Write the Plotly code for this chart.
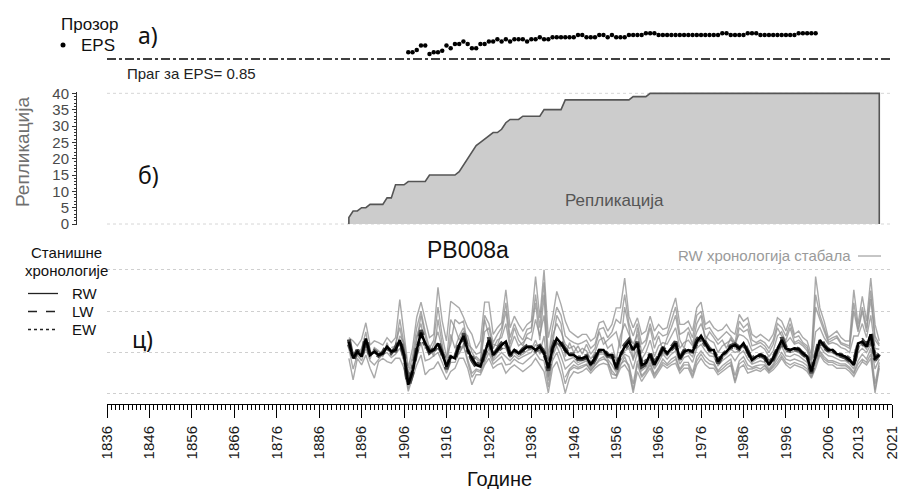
import plotly.graph_objects as go

W, H = 899, 489

# ---------------- data ----------------
# a) running EPS, 1907-2003
eps_years = list(range(1907, 2004))
eps = [
    0.884, 0.884, 0.895, 0.917, 0.917, 0.875, 0.884, 0.884, 0.891, 0.917,
    0.904, 0.925, 0.925, 0.937, 0.925, 0.904, 0.904, 0.925, 0.925, 0.937,
    0.937, 0.949, 0.937, 0.949, 0.937, 0.949, 0.949, 0.949, 0.937, 0.949,
    0.949, 0.959, 0.949, 0.949, 0.959, 0.959, 0.959, 0.959, 0.959, 0.959,
    0.970, 0.970, 0.959, 0.959, 0.959, 0.970, 0.970, 0.959, 0.970, 0.959,
    0.959, 0.959, 0.970, 0.970, 0.970, 0.970, 0.979, 0.979, 0.979, 0.970,
    0.970, 0.970, 0.970, 0.970, 0.970, 0.970, 0.970, 0.970, 0.970, 0.970,
    0.970, 0.970, 0.970, 0.970, 0.979, 0.979, 0.970, 0.970, 0.970, 0.970,
    0.979, 0.979, 0.979, 0.970, 0.970, 0.970, 0.970, 0.970, 0.970, 0.970,
    0.970, 0.970, 0.979, 0.979, 0.979, 0.979, 0.979,
]
eps_threshold = 0.85

# b) sample depth (number of series), 1893-2018
chron_years = list(range(1893, 2019))
replication = [
    2, 4, 4, 5, 5, 6, 6,
    6, 6, 8, 8, 12, 12, 12, 13, 13, 13,
    13, 13, 15, 15, 15, 15, 15, 15, 15, 16,
    18, 20, 22, 24, 25, 26, 27, 28, 28, 29,
    31, 32, 32, 32, 33, 33, 33, 33, 33, 35,
    35, 35, 35, 35, 38, 38, 38, 38, 38, 38,
    38, 38, 38, 38, 38, 38, 38, 38, 38, 38,
    39, 39, 39, 39, 40, 40, 40, 40, 40, 40,
    40, 40, 40, 40, 40, 40, 40, 40, 40, 40,
    40, 40, 40, 40, 40, 40, 40, 40, 40, 40,
    40, 40, 40, 40, 40, 40, 40, 40, 40, 40,
    40, 40, 40, 40, 40, 40, 40, 40, 40, 40,
    40, 40, 40, 40, 40, 40, 40, 40, 40,
]

# c) site chronologies, 1893-2018
rw = [
    1.13, 0.93, 1.01, 0.95, 1.17, 0.97, 1.01,
    0.97, 0.99, 1.07, 1.01, 1.03, 1.15, 0.97, 0.61, 0.77, 1.03,
    1.24, 1.11, 1.01, 1.03, 1.11, 0.99, 0.83, 0.95, 0.93, 1.09,
    1.20, 1.03, 0.93, 0.85, 0.83, 0.99, 1.15, 0.97, 1.03, 1.09,
    1.13, 0.97, 1.03, 0.99, 1.03, 1.07, 1.07, 1.03, 1.07, 0.99,
    0.81, 1.05, 1.17, 1.11, 1.03, 0.97, 0.97, 0.93, 0.93, 0.95,
    0.85, 0.93, 1.03, 1.03, 0.97, 0.97, 0.81, 0.97, 1.07, 1.13,
    1.03, 1.11, 0.85, 0.87, 0.98, 0.85, 0.95, 1.05, 0.99, 1.05,
    1.11, 0.93, 1.01, 1.03, 1.01, 1.13, 1.20, 1.11, 1.03, 1.03,
    0.89, 0.97, 1.01, 1.07, 1.09, 1.05, 1.11, 1.01, 0.91, 0.95,
    0.97, 0.95, 0.85, 0.93, 1.05, 1.15, 1.05, 1.03, 1.05, 1.04,
    0.99, 0.95, 0.77, 0.95, 1.15, 1.08, 1.03, 1.03, 0.98, 0.97,
    0.95, 0.91, 0.85, 1.11, 1.13, 1.07, 1.22, 0.93, 0.97,
]
lw = [
    1.16, 0.90, 1.03, 0.93, 1.20, 0.95, 1.00,
    0.96, 1.00, 1.09, 1.00, 1.05, 1.18, 0.95, 0.58, 0.75, 1.05,
    1.27, 1.12, 1.00, 1.04, 1.14, 0.98, 0.80, 0.96, 0.92, 1.11,
    1.23, 1.04, 0.91, 0.83, 0.81, 1.00, 1.18, 0.96, 1.04, 1.11,
    1.16, 0.96, 1.04, 0.98, 1.04, 1.08, 1.09, 1.05, 1.08, 1.00,
    0.78, 1.06, 1.20, 1.12, 1.02, 0.96, 0.96, 0.92, 0.92, 0.94,
    0.83, 0.92, 1.05, 1.04, 0.96, 0.96, 0.79, 0.98, 1.09, 1.15,
    1.02, 1.13, 0.83, 0.86, 0.99, 0.84, 0.94, 1.06, 0.99, 1.06,
    1.13, 0.92, 1.02, 1.04, 1.00, 1.15, 1.23, 1.12, 1.04, 1.03,
    0.87, 0.96, 1.02, 1.08, 1.10, 1.06, 1.13, 1.00, 0.90, 0.94,
    0.97, 0.94, 0.83, 0.92, 1.06, 1.18, 1.06, 1.03, 1.06, 1.04,
    0.98, 0.94, 0.75, 0.96, 1.18, 1.09, 1.03, 1.04, 0.98, 0.96,
    0.94, 0.90, 0.83, 1.13, 1.15, 1.08, 1.25, 0.91, 0.98,
]
ew = [
    1.10, 0.95, 1.00, 0.97, 1.13, 0.98, 1.02,
    0.98, 0.99, 1.05, 1.02, 1.02, 1.12, 0.98, 0.65, 0.80, 1.02,
    1.20, 1.09, 1.02, 1.02, 1.08, 1.00, 0.86, 0.95, 0.94, 1.07,
    1.17, 1.02, 0.95, 0.87, 0.85, 0.99, 1.12, 0.98, 1.02, 1.07,
    1.10, 0.98, 1.02, 1.00, 1.02, 1.06, 1.06, 1.02, 1.06, 0.99,
    0.84, 1.04, 1.14, 1.09, 1.03, 0.98, 0.98, 0.94, 0.94, 0.96,
    0.87, 0.94, 1.02, 1.02, 0.98, 0.98, 0.84, 0.97, 1.05, 1.10,
    1.03, 1.09, 0.87, 0.89, 0.98, 0.87, 0.96, 1.04, 0.99, 1.04,
    1.09, 0.94, 1.01, 1.02, 1.01, 1.11, 1.17, 1.09, 1.03, 1.02,
    0.91, 0.97, 1.01, 1.06, 1.07, 1.04, 1.09, 1.01, 0.93, 0.96,
    0.97, 0.96, 0.87, 0.94, 1.04, 1.12, 1.04, 1.02, 1.04, 1.03,
    0.99, 0.96, 0.80, 0.95, 1.12, 1.06, 1.02, 1.02, 0.98, 0.97,
    0.96, 0.92, 0.87, 1.09, 1.11, 1.06, 1.19, 0.95, 0.97,
]

# individual tree RW indices
tree_hi = [
    1.18, 1.14, 1.08, 1.16, 1.36, 1.09, 1.14,
    1.12, 1.09, 1.18, 1.12, 1.18, 1.64, 1.22, 0.81, 1.05, 1.43,
    1.61, 1.38, 1.18, 1.22, 1.79, 1.38, 1.14, 1.62, 1.58, 1.54,
    1.43, 1.30, 1.22, 1.05, 1.14, 1.61, 1.61, 1.22, 1.30, 1.36,
    1.76, 1.30, 1.44, 1.34, 1.26, 1.34, 1.38, 1.92, 1.42, 2.00,
    1.18, 1.42, 1.74, 1.58, 1.38, 1.26, 1.22, 1.18, 1.22, 1.22,
    1.14, 1.18, 1.36, 1.38, 1.26, 1.34, 1.54, 1.54, 1.90, 1.44,
    1.30, 1.42, 1.22, 1.26, 1.44, 1.26, 1.34, 1.28, 1.30, 1.50,
    1.66, 1.34, 1.34, 1.38, 1.26, 1.54, 1.61, 1.34, 1.38, 1.30,
    1.26, 1.28, 1.34, 1.26, 1.22, 1.46, 1.38, 1.42, 1.22, 1.18,
    1.22, 1.18, 1.14, 1.22, 1.42, 1.38, 1.26, 1.42, 1.22, 1.26,
    1.18, 1.14, 0.97, 1.92, 1.54, 1.38, 1.18, 1.22, 1.26, 1.18,
    1.14, 1.14, 1.76, 1.34, 1.68, 1.38, 1.90, 1.34, 1.14,
]
tree_lo = [
    0.93, 0.67, 0.93, 0.85, 0.97, 0.81, 0.69,
    0.89, 0.93, 0.89, 0.87, 0.93, 0.93, 0.81, 0.53, 0.69, 0.85,
    0.97, 0.73, 0.79, 0.81, 0.89, 0.77, 0.67, 0.77, 0.81, 0.93,
    0.93, 0.81, 0.61, 0.73, 0.73, 0.85, 0.93, 0.81, 0.85, 0.87,
    0.75, 0.81, 0.85, 0.81, 0.77, 0.81, 0.85, 0.93, 0.85, 0.77,
    0.51, 0.81, 0.89, 0.73, 0.51, 0.69, 0.77, 0.75, 0.77, 0.81,
    0.75, 0.81, 0.85, 0.87, 0.85, 0.69, 0.69, 0.81, 0.85, 0.77,
    0.51, 0.77, 0.65, 0.73, 0.81, 0.69, 0.77, 0.85, 0.81, 0.85,
    0.87, 0.75, 0.81, 0.81, 0.69, 0.85, 0.93, 0.85, 0.81, 0.81,
    0.73, 0.77, 0.81, 0.85, 0.63, 0.81, 0.85, 0.75, 0.77, 0.79,
    0.77, 0.81, 0.75, 0.79, 0.85, 0.93, 0.85, 0.81, 0.85, 0.83,
    0.81, 0.77, 0.69, 0.81, 0.97, 0.89, 0.85, 0.85, 0.81, 0.81,
    0.81, 0.77, 0.71, 0.81, 0.89, 0.85, 0.93, 0.51, 0.81,
]
tree_a = [
    1.10, 1.00, 0.98, 1.05, 1.25, 0.92, 1.06,
    1.02, 0.95, 1.12, 0.96, 1.10, 1.30, 1.05, 0.66, 0.88, 1.20,
    1.35, 1.05, 1.08, 0.95, 1.40, 1.10, 0.78, 1.22, 1.05, 1.20,
    1.30, 1.12, 0.88, 0.95, 0.90, 1.25, 1.30, 1.05, 1.15, 1.18,
    1.35, 1.05, 1.20, 1.08, 1.12, 1.18, 1.15, 1.40, 1.20, 1.45,
    0.90, 1.20, 1.35, 1.25, 1.10, 1.05, 1.08, 1.00, 1.05, 1.02,
    0.92, 1.00, 1.15, 1.18, 1.05, 1.10, 0.90, 1.20, 1.35, 1.22,
    1.10, 1.22, 0.92, 1.00, 1.15, 0.95, 1.08, 1.12, 1.10, 1.20,
    1.30, 1.05, 1.12, 1.15, 1.08, 1.25, 1.35, 1.20, 1.15, 1.12,
    1.00, 1.08, 1.12, 1.15, 1.12, 1.22, 1.20, 1.15, 1.02, 1.05,
    1.08, 1.04, 0.95, 1.02, 1.20, 1.25, 1.12, 1.18, 1.10, 1.12,
    1.08, 1.02, 0.85, 1.25, 1.30, 1.18, 1.10, 1.12, 1.10, 1.06,
    1.04, 1.00, 1.20, 1.20, 1.35, 1.18, 1.45, 1.05, 1.04,
]
tree_b = [
    1.05, 0.80, 0.97, 0.90, 1.05, 0.90, 0.85,
    0.92, 0.98, 1.00, 0.94, 0.98, 1.05, 0.90, 0.57, 0.72, 0.95,
    1.12, 0.90, 0.92, 0.96, 1.00, 0.88, 0.75, 0.88, 0.88, 1.00,
    1.08, 0.92, 0.75, 0.80, 0.78, 0.92, 1.05, 0.90, 0.95, 1.00,
    0.95, 0.90, 0.96, 0.92, 0.95, 0.98, 1.00, 1.10, 0.98, 1.05,
    0.66, 0.95, 1.08, 0.95, 0.80, 0.85, 0.90, 0.85, 0.88, 0.90,
    0.80, 0.88, 0.98, 0.98, 0.92, 0.85, 0.76, 0.90, 0.98, 0.95,
    0.80, 1.00, 0.78, 0.82, 0.92, 0.80, 0.88, 0.98, 0.92, 0.98,
    1.02, 0.86, 0.94, 0.96, 0.88, 1.05, 1.10, 1.02, 0.96, 0.95,
    0.84, 0.90, 0.94, 0.98, 0.90, 0.98, 1.02, 0.92, 0.86, 0.88,
    0.90, 0.88, 0.80, 0.86, 0.98, 1.08, 0.96, 0.95, 0.98, 0.96,
    0.92, 0.88, 0.74, 0.90, 1.08, 1.00, 0.96, 0.95, 0.92, 0.90,
    0.90, 0.86, 0.80, 1.00, 1.05, 1.00, 1.10, 0.80, 0.92,
]
tree_c_years = list(range(1903, 2019))
tree_c = [
    1.06, 1.08, 1.40, 1.10, 0.70, 0.80, 1.15,
    1.45, 1.20, 0.98, 1.10, 1.25, 1.05, 0.90, 1.40, 1.30, 1.15,
    1.25, 1.20, 1.00, 0.92, 0.88, 1.40, 1.20, 1.10, 1.08, 1.25,
    1.50, 1.10, 1.30, 1.15, 1.08, 1.22, 1.25, 1.60, 1.15, 1.70,
    0.70, 1.10, 1.45, 1.35, 0.95, 1.12, 1.00, 1.08, 0.98, 1.10,
    0.98, 1.05, 1.25, 1.10, 1.15, 1.20, 1.25, 1.05, 1.55, 1.30,
    0.90, 1.30, 1.00, 1.10, 1.30, 1.05, 1.20, 1.02, 1.18, 1.30,
    1.45, 1.15, 1.05, 1.25, 1.10, 1.35, 1.45, 1.15, 1.25, 1.18,
    1.10, 1.15, 1.05, 1.18, 1.05, 1.30, 1.25, 1.28, 1.08, 1.10,
    1.12, 1.08, 1.00, 1.10, 1.30, 1.20, 1.15, 1.30, 1.12, 1.15,
    1.10, 1.05, 0.90, 1.55, 1.40, 1.25, 1.12, 1.15, 1.18, 1.10,
    1.08, 1.05, 1.50, 1.25, 1.50, 1.25, 1.65, 1.15, 1.08,
]
tree_d_years = list(range(1919, 2019))
tree_d = [
    0.98,
    1.10, 0.88, 0.70, 0.78, 0.76, 0.88, 1.00, 0.86, 0.90, 0.95,
    0.85, 0.86, 0.92, 0.88, 0.86, 0.90, 0.95, 1.00, 0.92, 0.90,
    0.58, 0.90, 1.00, 0.85, 0.62, 0.78, 0.82, 0.80, 0.82, 0.85,
    0.78, 0.85, 0.92, 0.95, 0.88, 0.78, 0.72, 0.86, 0.90, 0.85,
    0.62, 0.90, 0.72, 0.78, 0.88, 0.74, 0.82, 0.92, 0.86, 0.92,
    0.95, 0.80, 0.88, 0.88, 0.76, 0.95, 1.02, 0.95, 0.90, 0.88,
    0.78, 0.84, 0.88, 0.92, 0.72, 0.90, 0.95, 0.85, 0.82, 0.84,
    0.85, 0.85, 0.78, 0.84, 0.92, 1.00, 0.92, 0.90, 0.92, 0.90,
    0.88, 0.84, 0.72, 0.88, 1.02, 0.95, 0.90, 0.90, 0.88, 0.86,
    0.86, 0.82, 0.76, 0.90, 0.98, 0.92, 1.05, 0.62, 0.88,
]
tree_e_years = list(range(1904, 2019))
tree_e = [
    1.00, 1.20, 1.12, 0.75, 0.95, 1.30,
    1.50, 1.25, 1.05, 1.15, 1.55, 1.20, 0.95, 1.10, 1.40, 1.35,
    1.38, 1.10, 1.05, 0.98, 1.00, 1.45, 1.35, 1.12, 1.22, 1.30,
    1.60, 1.18, 1.35, 1.22, 1.15, 1.28, 1.30, 1.70, 1.30, 1.85,
    0.95, 1.30, 1.55, 1.45, 1.20, 1.15, 1.12, 1.10, 1.12, 1.15,
    1.05, 1.10, 1.28, 1.30, 1.18, 1.25, 1.40, 1.35, 1.70, 1.35,
    1.20, 1.35, 1.10, 1.15, 1.35, 1.15, 1.25, 1.20, 1.22, 1.38,
    1.55, 1.22, 1.25, 1.30, 1.18, 1.45, 1.50, 1.28, 1.30, 1.22,
    1.15, 1.20, 1.25, 1.20, 1.12, 1.38, 1.30, 1.35, 1.15, 1.12,
    1.15, 1.12, 1.05, 1.15, 1.35, 1.30, 1.20, 1.35, 1.18, 1.20,
    1.12, 1.08, 0.92, 1.70, 1.45, 1.30, 1.15, 1.18, 1.20, 1.12,
    1.10, 1.08, 1.60, 1.28, 1.55, 1.30, 1.75, 1.20, 1.10,
]
tree_f_years = list(range(1926, 2019))
tree_f = [
    1.08, 0.92, 1.00, 1.05,
    1.05, 0.94, 1.00, 0.95, 0.98, 1.02, 1.04, 1.15, 1.00, 1.20,
    0.72, 1.00, 1.12, 1.05, 0.90, 0.92, 0.94, 0.88, 0.90, 0.92,
    0.82, 0.90, 1.00, 1.00, 0.94, 0.92, 0.78, 0.94, 1.02, 1.05,
    0.92, 1.05, 0.80, 0.85, 0.95, 0.82, 0.92, 1.00, 0.96, 1.02,
    1.08, 0.90, 0.98, 1.00, 0.95, 1.10, 1.15, 1.08, 1.00, 0.98,
    0.85, 0.94, 0.98, 1.04, 1.00, 1.02, 1.08, 0.98, 0.88, 0.92,
    0.94, 0.92, 0.84, 0.90, 1.02, 1.12, 1.02, 1.00, 1.02, 1.00,
    0.96, 0.92, 0.76, 0.94, 1.12, 1.05, 1.00, 1.00, 0.96, 0.94,
    0.92, 0.88, 0.84, 1.08, 1.10, 1.04, 1.18, 0.88, 0.95,
]
tree_g_years = list(range(1944, 2019))
tree_g = [
    0.70, 0.80, 0.85, 0.82, 0.84, 0.86,
    0.78, 0.84, 0.90, 0.92, 0.90, 0.74, 0.72, 0.84, 0.95, 0.82,
    0.55, 0.86, 0.70, 0.76, 0.85, 0.72, 0.80, 0.88, 0.84, 0.88,
    0.92, 0.78, 0.85, 0.85, 0.72, 0.90, 0.98, 0.90, 0.86, 0.85,
    0.76, 0.80, 0.85, 0.88, 0.66, 0.86, 0.90, 0.80, 0.80, 0.82,
    0.80, 0.84, 0.77, 0.82, 0.88, 0.96, 0.88, 0.85, 0.88, 0.86,
    0.84, 0.80, 0.70, 0.85, 1.00, 0.92, 0.88, 0.88, 0.85, 0.84,
    0.84, 0.80, 0.74, 0.86, 0.92, 0.88, 0.98, 0.55, 0.84,
]

tick_years = [1836, 1846, 1856, 1866, 1876, 1886, 1896, 1906, 1916, 1926,
              1936, 1946, 1956, 1966, 1976, 1986, 1996, 2006, 2013, 2021]
x_range = [1836, 2021]
rep_ticks = [0, 5, 10, 15, 20, 25, 30, 35, 40]
index_grid = [0.5, 1.0, 1.5, 2.0]

# ---------------- helpers ----------------
def px(x):
    return x / W


def py(y):
    return 1 - y / H


SANS = "Liberation Sans, Arial, sans-serif"
PANEL = "Noto Sans, Open Sans, sans-serif"

fig = go.Figure()

# a) EPS points
fig.add_trace(go.Scatter(
    x=eps_years, y=eps, mode="markers", xaxis="x", yaxis="y",
    marker=dict(color="black", size=4.5), showlegend=False, hoverinfo="skip"))

# b) sample depth polygon
fig.add_trace(go.Scatter(
    x=[chron_years[0]] + chron_years + [chron_years[-1]],
    y=[0] + replication + [0],
    mode="lines", fill="toself", fillcolor="#cccccc",
    line=dict(color="#555555", width=1.6),
    xaxis="x", yaxis="y2", showlegend=False, hoverinfo="skip"))

# c) individual trees
tree_sets = [
    (chron_years, tree_hi), (chron_years, tree_lo),
    (chron_years, tree_a), (chron_years, tree_b),
    (tree_c_years, tree_c), (tree_d_years, tree_d),
    (tree_e_years, tree_e), (tree_f_years, tree_f),
    (tree_g_years, tree_g),
]
for yrs, vals in tree_sets:
    fig.add_trace(go.Scatter(
        x=yrs, y=vals, mode="lines", xaxis="x", yaxis="y3",
        line=dict(color="rgba(140,140,140,0.75)", width=1.4),
        showlegend=False, hoverinfo="skip"))

# c) site chronologies
fig.add_trace(go.Scatter(
    x=chron_years, y=ew, mode="lines", xaxis="x", yaxis="y3",
    line=dict(color="#5a5a5a", width=4, dash="dot"),
    showlegend=False, hoverinfo="skip"))
fig.add_trace(go.Scatter(
    x=chron_years, y=lw, mode="lines", xaxis="x", yaxis="y3",
    line=dict(color="#444444", width=4, dash="dash"),
    showlegend=False, hoverinfo="skip"))
fig.add_trace(go.Scatter(
    x=chron_years, y=rw, mode="lines", xaxis="x", yaxis="y3",
    line=dict(color="black", width=2.6),
    showlegend=False, hoverinfo="skip"))

shapes = []
# EPS threshold
shapes.append(dict(type="line", xref="x", yref="y", x0=x_range[0], x1=x_range[1],
                   y0=eps_threshold, y1=eps_threshold,
                   line=dict(color="black", width=1.6, dash="dashdot")))
# dotted guides in the sample depth panel
for v in (rep_ticks[0], rep_ticks[-1]):
    shapes.append(dict(type="line", xref="x", yref="y2", x0=x_range[0], x1=x_range[1],
                       y0=v, y1=v, layer="below",
                       line=dict(color="#d6d6d6", width=1, dash="dot")))
# EPS legend bullet
shapes.append(dict(type="circle", xref="paper", yref="paper",
                   x0=px(60.5), x1=px(65.5), y0=py(47.5), y1=py(42.5),
                   fillcolor="black", line=dict(color="black", width=0)))
# site chronology legend samples
for yy, dash in ((293.5, "solid"), (311.5, "dash"), (329.5, "dot")):
    shapes.append(dict(type="line", xref="paper", yref="paper",
                       x0=px(28), x1=px(58), y0=py(yy), y1=py(yy),
                       line=dict(color="#222222", width=1.3, dash=dash)))
# tree series key
shapes.append(dict(type="line", xref="paper", yref="paper",
                   x0=px(858), x1=px(881), y0=py(256), y1=py(256),
                   line=dict(color="#8c8c8c", width=1)))


def note(text, x, y, size, color="#111111", family=SANS, xanchor="center", angle=0):
    return dict(text=text, x=px(x), y=py(y), xref="paper", yref="paper",
                showarrow=False, xanchor=xanchor, yanchor="middle",
                textangle=angle, font=dict(size=size, color=color, family=family))


annotations = [
    note("Прозор", 89, 24, 17),
    note("EPS", 79, 45, 17, xanchor="left"),
    note("а)", 148, 35, 23, family=PANEL),
    note("Праг за EPS= 0.85", 125, 73, 15, color="#222222", xanchor="left"),
    note("Репликација", 22, 152, 19, color="#6f6f6f", angle=-90),
    note("б)", 148, 175, 23, family=PANEL),
    note("Репликација", 614, 200, 17, color="#555555"),
    note("Станишне", 66, 252, 15),
    note("хронологије", 66, 270, 15),
    note("RW", 70, 293, 15, xanchor="left"),
    note("LW", 70, 311, 15, xanchor="left"),
    note("EW", 70, 329, 15, xanchor="left"),
    note("ц)", 142, 339, 23, family=PANEL),
    note("PB008a", 468, 250, 23),
    note("RW хронологија стабала", 853, 255, 15, color="#9a9a9a", xanchor="right"),
    note("Године", 499, 479, 20),
]

xdom = [px(107), px(892)]

fig.update_layout(
    width=W, height=H,
    margin=dict(l=0, r=0, t=0, b=0),
    paper_bgcolor="white", plot_bgcolor="white",
    showlegend=False,
    font=dict(family=SANS, color="#111111"),
    shapes=shapes, annotations=annotations,
    xaxis=dict(
        domain=xdom, range=x_range, anchor="y3", automargin=False,
        showgrid=False, zeroline=False,
        showline=True, linecolor="black", linewidth=1,
        tickmode="array", tickvals=tick_years, ticktext=[str(t) for t in tick_years],
        ticks="outside", ticklen=13, tickcolor="black", tickwidth=1,
        tickangle=-90, tickfont=dict(size=15, family=SANS, color="#1a1a1a"),
        ticklabelstandoff=2, ticklabeloverflow="allow",
        minor=dict(tickmode="linear", tick0=1836, dtick=1, ticks="outside",
                   ticklen=5, tickcolor="black", tickwidth=1, showgrid=False),
    ),
    yaxis=dict(
        domain=[py(65), py(20)], range=[0.82, 1.045], anchor="x",
        visible=False, showgrid=False, zeroline=False,
    ),
    yaxis2=dict(
        domain=[py(225), py(91.7)], range=[-0.3, 40.5],
        anchor="free", position=px(76), automargin=False,
        showgrid=False, zeroline=False,
        showline=True, linecolor="#333333", linewidth=1,
        tickmode="array", tickvals=rep_ticks,
        ticks="outside", ticklen=4, tickcolor="#333333",
        tickfont=dict(size=15, family=SANS, color="#4a4a4a"),
        minor=dict(tickmode="linear", tick0=0, dtick=1, ticks="outside",
                   ticklen=2, tickcolor="#333333", showgrid=False),
    ),
    yaxis3=dict(
        domain=[py(404), py(262)], range=[0.3765, 2.0956], anchor="x",
        automargin=False,
        showticklabels=False, ticks="", zeroline=False,
        showgrid=True, tickmode="array", tickvals=index_grid,
        gridcolor="#cfcfcf", gridwidth=1, griddash="dot",
    ),
)

fig.write_html("out.html")
